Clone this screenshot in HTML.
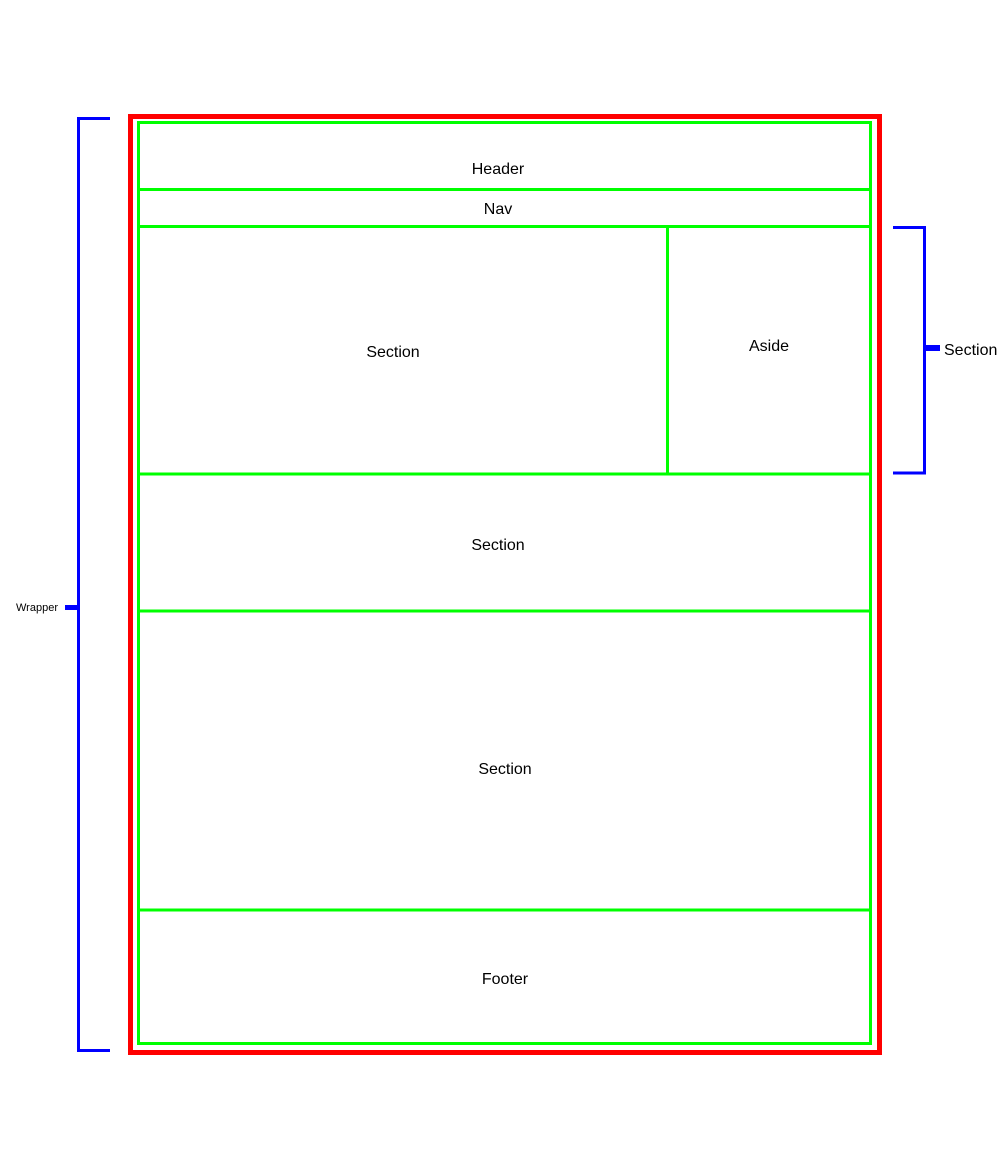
<!DOCTYPE html>
<html><head><meta charset="utf-8"><style>
html,body{margin:0;padding:0;background:#fff;}
svg{display:block;}
text{font-family:"Liberation Sans",sans-serif;fill:#000;}
</style></head><body>
<svg width="1008" height="1152" viewBox="0 0 1008 1152" xmlns="http://www.w3.org/2000/svg">
<!-- left bracket -->
<polyline points="110,118.5 78.5,118.5 78.5,1050.5 110,1050.5" fill="none" stroke="#0000ff" stroke-width="3"/>
<rect x="65" y="605" width="13" height="5" fill="#0000ff"/>
<text x="16" y="611" font-size="11">Wrapper</text>
<!-- right bracket -->
<polyline points="893,227.5 924.5,227.5 924.5,473 893,473" fill="none" stroke="#0000ff" stroke-width="3"/>
<rect x="925" y="345" width="15" height="6" fill="#0000ff"/>
<text x="944" y="355" font-size="16">Section</text>
<!-- red wrapper -->
<rect x="130.5" y="116.5" width="749" height="936" fill="none" stroke="#ff0000" stroke-width="5"/>
<!-- green boxes -->
<g stroke="#00ff00" stroke-width="3" fill="none">
<rect x="138.5" y="122.5" width="732" height="921"/>
<line x1="138.5" y1="189.5" x2="870.5" y2="189.5"/>
<line x1="138.5" y1="226.5" x2="870.5" y2="226.5"/>
<line x1="667.5" y1="226.5" x2="667.5" y2="474"/>
<line x1="138.5" y1="474" x2="870.5" y2="474"/>
<line x1="138.5" y1="611" x2="870.5" y2="611"/>
<line x1="138.5" y1="910" x2="870.5" y2="910"/>
</g>
<g font-size="16" text-anchor="middle">
<text x="498" y="174">Header</text>
<text x="498" y="214">Nav</text>
<text x="393" y="357">Section</text>
<text x="769" y="351">Aside</text>
<text x="498" y="550">Section</text>
<text x="505" y="774">Section</text>
<text x="505" y="984">Footer</text>
</g>
</svg>
</body></html>
